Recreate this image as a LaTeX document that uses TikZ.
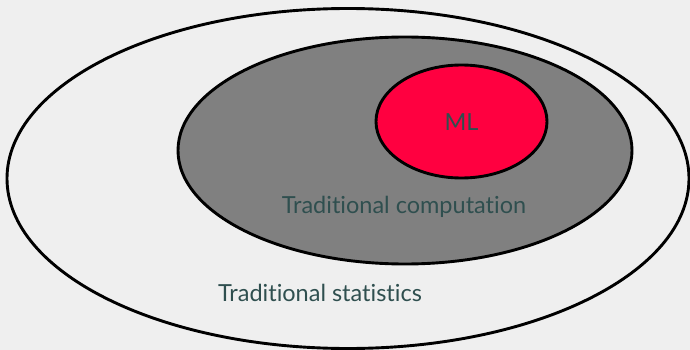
\documentclass[tikz,border=0pt]{standalone}
\usepackage{fontspec}
\setmainfont{Lato}[Ligatures={NoCommon,NoRare,NoContextual}]
\usetikzlibrary{shapes.geometric}
\definecolor{bgcol}{HTML}{EFEFEF}
\definecolor{midgray}{HTML}{808080}
\definecolor{mlred}{HTML}{FF0040}
\definecolor{labelcol}{HTML}{2F4F4F}
\begin{document}
\begin{tikzpicture}[x=1pt,y=-1pt,
  setring/.style={draw=black,line width=2.9pt,ellipse,inner sep=0pt},
  setlabel/.style={text=labelcol,font=\fontsize{23.5}{27}\selectfont,inner sep=0pt,anchor=base}]
  \fill[bgcol] (0,0) rectangle (690,350);
  \useasboundingbox (0,0) rectangle (690,350);
  % nested sets, outermost first
  \node[setring,minimum width=682pt,minimum height=340pt,fill=bgcol] (stats) at (348,178.5) {};
  \node[setring,minimum width=454pt,minimum height=227pt,fill=midgray] (comp) at (405,150.5) {};
  \node[setring,minimum width=171pt,minimum height=113pt,fill=mlred] (ml) at (461.5,121.5) {};
  % set labels
  \node[setlabel] (mltext) at (461.5,130) {ML};
  \node[setlabel] (comptext) at (404,213) {Traditional computation};
  \node[setlabel] (statstext) at (320,301) {Traditional statistics};
\end{tikzpicture}
\end{document}
